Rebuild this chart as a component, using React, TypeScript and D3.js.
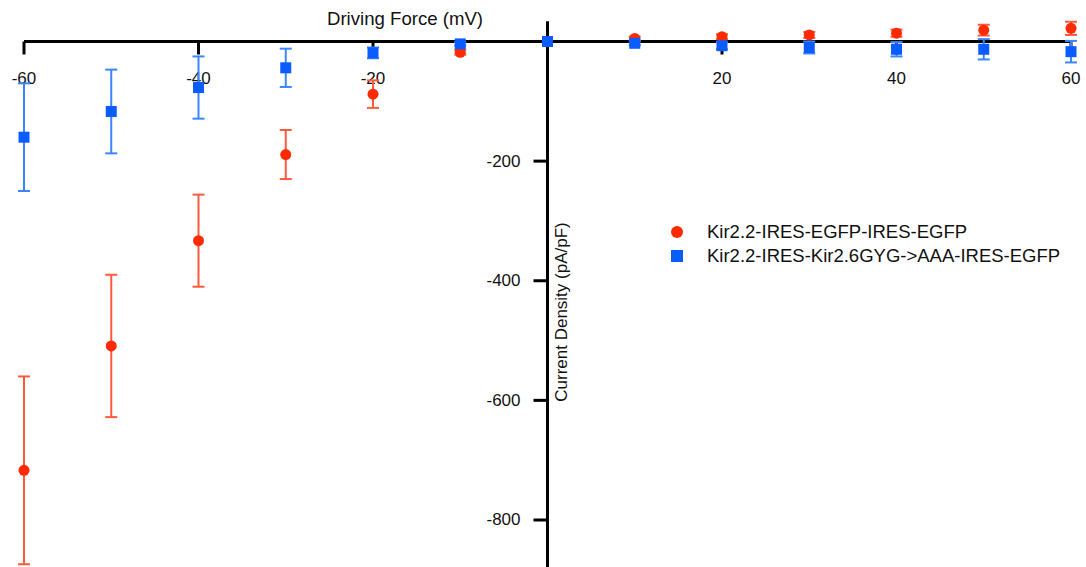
import React from "react";
import * as d3 from "d3";

const voltages = [-60, -50, -40, -30, -20, -10, 0, 10, 20, 30, 40, 50, 60];
const redMean = [-717, -509, -333, -189, -88, -18, 0, 5, 8, 11, 14, 19, 22];
const redErr = [157, 119, 77, 41, 23, 4, 0, 3, 4, 5, 6, 9, 11];
const blueMean = [-160, -117, -77, -44, -19, -4, 0, -3, -7, -10, -13, -13, -17];
const blueErr = [90, 70, 52, 32, 9, 3, 0, 3, 6, 10, 12, 17, 18];
const xTicks = [-60, -40, -20, 20, 40, 60];
const yTicks = [-200, -400, -600, -800];
const seriesNames = ["Kir2.2-IRES-EGFP-IRES-EGFP", "Kir2.2-IRES-Kir2.6GYG->AAA-IRES-EGFP"];

const W = 1086;
const H = 567;
const FONT = "'Liberation Sans', Arial, Helvetica, sans-serif";

const RED = "#ff2a00";
const RED_BAR = "#ff5a3c";
const BLUE = "#0a5cff";
const BLUE_BAR = "#3a86ff";

export default function App() {
  const x = d3.scaleLinear().domain([-60, 60]).range([24, 1071]);
  const y = d3.scaleLinear().domain([0, -800]).range([41.5, 520]);
  const yTop = y(34);
  const yBot = y(-880);
  const x0 = x(0);
  const y0 = y(0);
  const cap = 6;

  const redPts = voltages.map((v, i) => ({ v, m: redMean[i], e: redErr[i] }));
  const bluePts = voltages.map((v, i) => ({ v, m: blueMean[i], e: blueErr[i] }));

  const bars = (pts: { v: number; m: number; e: number }[], color: string) =>
    pts.filter((p) => p.e > 0).map((p, i) => (
      <g key={i} stroke={color} strokeWidth={2}>
        <line x1={x(p.v)} x2={x(p.v)} y1={y(p.m + p.e)} y2={y(p.m - p.e)} />
        <line x1={x(p.v) - cap} x2={x(p.v) + cap} y1={y(p.m + p.e)} y2={y(p.m + p.e)} />
        <line x1={x(p.v) - cap} x2={x(p.v) + cap} y1={y(p.m - p.e)} y2={y(p.m - p.e)} />
      </g>
    ));

  return (
    <svg
      width={W}
      height={H}
      style={{ position: "absolute", left: 0, top: 0, background: "#fff" }}
      fontFamily={FONT}
    >
      {/* axes */}
      <line x1={x(-60)} x2={x(60)} y1={y0} y2={y0} stroke="#000" strokeWidth={3} />
      <line x1={x0} x2={x0} y1={yTop} y2={yBot} stroke="#000" strokeWidth={3} />
      {xTicks.map((t) => (
        <g key={t}>
          <line x1={x(t)} x2={x(t)} y1={y0} y2={y0 + 13} stroke="#000" strokeWidth={3} />
          <text x={x(t)} y={y0 + 38} textAnchor="middle" dominantBaseline="middle" fontSize={17} fill="#111">
            {t}
          </text>
        </g>
      ))}
      {yTicks.map((t) => (
        <g key={t}>
          <line x1={x0 - 14} x2={x0} y1={y(t)} y2={y(t)} stroke="#000" strokeWidth={3} />
          <text x={x0 - 27} y={y(t) + 1} textAnchor="end" dominantBaseline="middle" fontSize={17} fill="#111">
            {t}
          </text>
        </g>
      ))}
      <text x={405} y={20} textAnchor="middle" dominantBaseline="middle" fontSize={18.6} fill="#111">
        Driving Force (mV)
      </text>
      <text
        transform={`translate(${x0 + 15},312) rotate(-90)`}
        textAnchor="middle"
        dominantBaseline="middle"
        fontSize={17}
        fill="#111"
      >
        Current Density (pA/pF)
      </text>

      {/* red series */}
      {bars(redPts, RED_BAR)}
      {redPts.map((p, i) => (
        <circle key={i} cx={x(p.v)} cy={y(p.m)} r={5.5} fill={RED} />
      ))}
      {/* blue series */}
      {bars(bluePts, BLUE_BAR)}
      {bluePts.map((p, i) => (
        <rect key={i} x={x(p.v) - 5.5} y={y(p.m) - 5.5} width={11} height={11} fill={BLUE} />
      ))}

      {/* legend */}
      <circle cx={677} cy={232} r={6} fill={RED} />
      <text x={707} y={233} dominantBaseline="middle" fontSize={18.5} fill="#111">
        {seriesNames[0]}
      </text>
      <rect x={671} y={250} width={12} height={12} fill={BLUE} />
      <text x={707} y={257} dominantBaseline="middle" fontSize={18.5} fill="#111">
        {seriesNames[1]}
      </text>
    </svg>
  );
}
